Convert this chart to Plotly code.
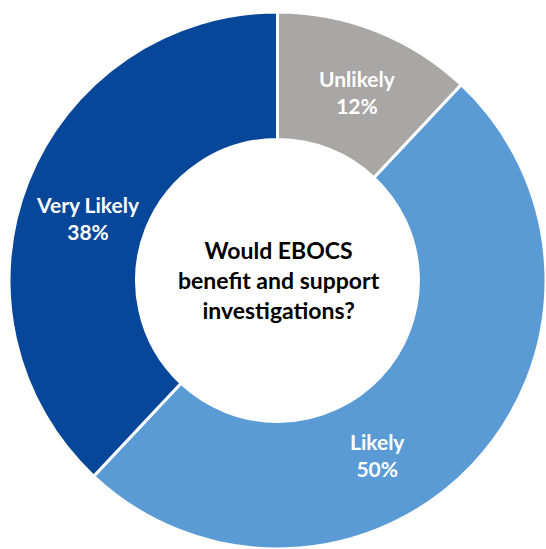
import plotly.graph_objects as go

# Survey responses, in clockwise order starting at 12 o'clock
categories = ["Unlikely", "Likely", "Very Likely"]
shares = [12, 50, 38]
slice_colors = ["#A9A6A6", "#5B9BD5", "#07479A"]

center_question = "Would EBOCS<br>benefit and support<br>investigations?"

# Where each slice label sits (paper coordinates)
label_x = [357 / 546, 377 / 546, 88 / 546]
label_y = [1 - 92 / 549, 1 - 455 / 549, 1 - 218 / 549]

W, H = 546, 549

fig = go.Figure(
    go.Pie(
        labels=categories,
        values=shares,
        sort=False,
        direction="clockwise",
        rotation=0,
        hole=0.525,
        textinfo="none",
        hoverinfo="label+percent",
        marker=dict(colors=slice_colors, line=dict(color="white", width=3)),
        domain=dict(x=[9 / W, 1], y=[0, 537 / H]),
        showlegend=False,
    )
)

annotations = [
    dict(
        text=f"<b>{cat}</b><br><b>{val}%</b>",
        x=lx,
        y=ly,
        xref="paper",
        yref="paper",
        xanchor="center",
        yanchor="middle",
        showarrow=False,
        font=dict(family="Lato", size=21, color="white"),
        align="center",
    )
    for cat, val, lx, ly in zip(categories, shares, label_x, label_y)
]
annotations.append(
    dict(
        text=f"<b>{center_question}</b>",
        x=279 / W,
        y=1 - 280 / H,
        xref="paper",
        yref="paper",
        xanchor="center",
        yanchor="middle",
        showarrow=False,
        font=dict(family="Lato", size=23, color="black"),
        align="center",
    )
)

fig.update_layout(
    width=W,
    height=H,
    margin=dict(l=0, r=0, t=0, b=0),
    paper_bgcolor="white",
    plot_bgcolor="white",
    annotations=annotations,
)

fig.write_html("out.html")
